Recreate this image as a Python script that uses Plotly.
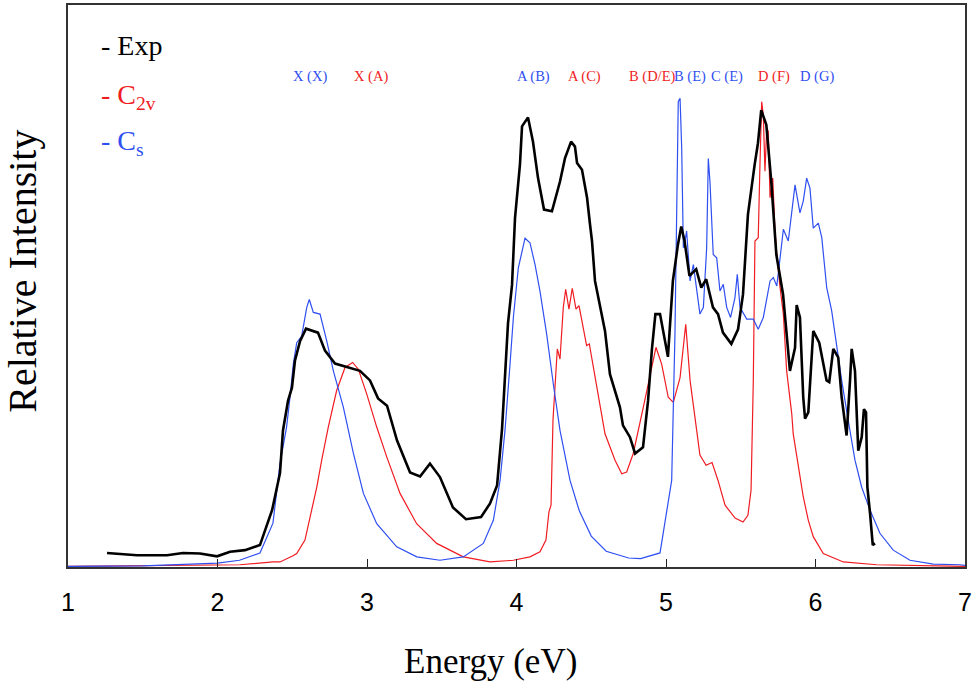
import plotly.graph_objects as go

# ---- data (energy in eV, relative intensity in % of axis height) ----
exp_x = [1.261, 1.462, 1.662, 1.769, 1.883, 1.997, 2.084, 2.184, 2.284, 2.365, 2.418, 2.438, 2.472, 2.498,
         2.518, 2.552, 2.592, 2.672, 2.719, 2.786, 2.953, 3.020, 3.074, 3.134, 3.201, 3.288, 3.355, 3.421,
         3.488, 3.575, 3.662, 3.763, 3.823, 3.870, 3.903, 3.923, 3.943, 3.970, 3.990, 4.023, 4.037, 4.077,
         4.110, 4.144, 4.184, 4.237, 4.291, 4.324, 4.365, 4.391, 4.405, 4.438, 4.472, 4.492, 4.505, 4.525,
         4.559, 4.592, 4.625, 4.692, 4.712, 4.759, 4.793, 4.846, 4.880, 4.906, 4.929, 4.960, 5.013, 5.046,
         5.080, 5.102, 5.124, 5.157, 5.202, 5.236, 5.269, 5.314, 5.348, 5.381, 5.437, 5.482, 5.515, 5.548,
         5.593, 5.615, 5.637, 5.671, 5.704, 5.738, 5.783, 5.805, 5.829, 5.863, 5.874, 5.896, 5.918, 5.930,
         5.952, 5.985, 6.025, 6.074, 6.092, 6.119, 6.152, 6.175, 6.208, 6.231, 6.242, 6.264, 6.286, 6.309,
         6.324, 6.338, 6.347, 6.365, 6.383, 6.398]
exp_y = [2.5, 2.1, 2.1, 2.5, 2.4, 1.9, 2.7, 3.0, 3.9, 10.1, 16.7, 24.3, 29.6, 31.9,
         36.7, 40.2, 42.4, 41.7, 38.5, 36.2, 34.9, 33.2, 30.0, 28.7, 22.5, 16.8, 16.1, 18.4,
         16.0, 10.6, 8.5, 8.9, 11.3, 14.5, 24.5, 34.5, 43.3, 50.2, 62.1, 71.6, 78.4, 80.0,
         75.7, 69.2, 63.6, 63.3, 68.6, 72.7, 75.7, 74.8, 71.9, 70.7, 65.7, 60.9, 58.0, 50.9,
         46.2, 42.0, 34.3, 28.4, 25.2, 23.1, 20.2, 21.3, 29.6, 38.8, 45.0, 45.0, 37.4, 50.9,
         57.4, 60.6, 58.0, 51.8, 53.0, 49.7, 51.2, 46.2, 45.0, 41.7, 39.7, 42.3, 48.5, 62.7,
         71.6, 75.4, 81.3, 78.7, 68.6, 55.6, 48.5, 41.4, 34.9, 39.0, 46.6, 44.4, 30.2, 26.4,
         27.5, 42.0, 39.9, 33.2, 32.9, 38.8, 37.3, 30.2, 23.4, 33.2, 38.8, 34.9, 20.7, 23.1,
         28.1, 27.5, 14.2, 9.5, 3.9, 4.2]

c2v_x = [1.0, 1.5, 2.0, 2.15, 2.371, 2.418, 2.505, 2.530, 2.585, 2.619, 2.664, 2.697, 2.741, 2.797,
         2.853, 2.904, 2.942, 2.998, 3.065, 3.132, 3.221, 3.332, 3.466, 3.644, 3.823, 3.979, 4.090,
         4.157, 4.197, 4.217, 4.231, 4.244, 4.258, 4.273, 4.291, 4.313, 4.329, 4.351, 4.373, 4.398,
         4.418, 4.447, 4.469, 4.487, 4.525, 4.592, 4.659, 4.704, 4.737, 4.781, 4.848, 4.893, 4.933,
         4.971, 5.015, 5.049, 5.094, 5.132, 5.161, 5.227, 5.268, 5.308, 5.348, 5.395, 5.462, 5.515,
         5.548, 5.569, 5.584, 5.595, 5.617, 5.629, 5.640, 5.651, 5.662, 5.674, 5.684, 5.696, 5.714,
         5.729, 5.741, 5.763, 5.785, 5.807, 5.841, 5.851, 5.874, 5.896, 5.918, 5.952, 5.985, 6.052,
         6.186, 6.409, 6.967, 7.0]
c2v_y = [0.1, 0.2, 0.3, 0.4, 0.9, 0.9, 2.0, 2.4, 4.8, 8.9, 14.2, 19.0, 24.9, 31.4,
         35.5, 36.4, 35.2, 30.8, 24.9, 19.6, 13.1, 7.7, 4.2, 1.8, 0.9, 1.2, 1.8,
         2.7, 4.8, 9.8, 11.0, 26.1, 32.6, 38.8, 37.0, 46.2, 49.4, 45.9, 49.6, 45.9,
         46.5, 42.6, 39.4, 39.7, 33.7, 23.7, 19.0, 16.6, 16.9, 20.2, 28.4, 34.3, 39.1,
         36.1, 30.2, 29.3, 33.7, 43.2, 33.2, 19.9, 18.1, 18.6, 15.4, 11.0, 8.7, 8.0,
         9.2, 13.7, 33.2, 58.0, 58.6, 72.2, 82.8, 80.4, 70.4, 78.1, 77.5, 65.7, 69.2,
         59.8, 55.6, 49.7, 45.0, 34.9, 27.3, 23.7, 19.6, 16.0, 12.5, 8.3, 5.4, 2.4,
         0.9, 0.4, 0.1, 0.1]

cs_x = [1.0, 1.5, 2.0, 2.147, 2.284, 2.371, 2.418, 2.462, 2.485, 2.507, 2.530, 2.563, 2.597, 2.614,
        2.641, 2.686, 2.731, 2.775, 2.842, 2.909, 2.976, 3.065, 3.199, 3.333, 3.488, 3.644, 3.778,
        3.845, 3.890, 3.923, 3.957, 3.979, 4.012, 4.057, 4.090, 4.124, 4.157, 4.202, 4.246, 4.291,
        4.358, 4.42, 4.50, 4.60, 4.75, 4.83, 4.96, 5.038, 5.060, 5.082, 5.094, 5.105, 5.116, 5.127,
        5.138, 5.149, 5.161, 5.183, 5.205, 5.227, 5.250, 5.272, 5.283, 5.294, 5.316, 5.339, 5.361,
        5.383, 5.406, 5.432, 5.461, 5.477, 5.495, 5.540, 5.584, 5.617, 5.651, 5.696, 5.718, 5.741,
        5.763, 5.785, 5.818, 5.841, 5.863, 5.896, 5.918, 5.941, 5.963, 5.985, 6.019, 6.042, 6.075,
        6.108, 6.142, 6.175, 6.219, 6.264, 6.309, 6.365, 6.431, 6.520, 6.632, 6.788, 6.967, 7.0]
cs_y = [0.1, 0.2, 0.7, 1.2, 2.5, 7.8, 18.4, 24.9, 30.2, 36.1, 39.9, 41.1, 46.2, 47.6,
        45.3, 45.0, 40.2, 34.9, 28.4, 20.2, 13.1, 7.7, 3.6, 1.8, 1.2, 1.8, 4.2,
        8.3, 15.4, 24.3, 36.2, 44.4, 53.2, 58.5, 57.7, 53.8, 49.1, 41.4, 32.6, 24.3,
        15.4, 10.0, 5.5, 2.8, 1.6, 1.5, 2.5, 15.4, 41.5, 82.8, 83.4, 74.5, 56.8, 58.0,
        59.8, 55.7, 50.9, 53.8, 49.7, 45.0, 46.2, 56.8, 72.7, 68.6, 55.6, 55.0, 49.1,
        50.3, 46.2, 44.4, 47.9, 52.1, 46.2, 44.1, 44.1, 42.3, 44.4, 50.9, 51.5, 50.0,
        55.0, 60.1, 58.0, 63.3, 68.0, 63.0, 65.1, 69.2, 67.4, 60.3, 61.2, 58.6, 49.7,
        45.6, 39.1, 33.2, 26.1, 19.0, 14.2, 10.1, 6.0, 3.0, 1.2, 0.5, 0.4, 0.3]

peak_labels = ["X (X)", "X (A)", "A (B)", "A (C)", "B (D/E)", "B (E)", "C (E)", "D (F)", "D (G)"]
peak_series = ["Cs", "C2v", "Cs", "C2v", "C2v", "Cs", "Cs", "C2v", "Cs"]
peak_label_x = [2.619, 3.027, 4.117, 4.452, 4.906, 5.161, 5.408, 5.722, 6.010]

x_ticks = [1, 2, 3, 4, 5, 6, 7]

RED = "#f01c22"
BLUE = "#2f4ff0"
colors = {"C2v": RED, "Cs": BLUE}
SERIF = "Liberation Serif, Times New Roman, serif"

fig = go.Figure()
fig.add_trace(go.Scatter(x=c2v_x, y=c2v_y, mode="lines", line=dict(color=RED, width=1.2), name="C2v"))
fig.add_trace(go.Scatter(x=cs_x, y=cs_y, mode="lines", line=dict(color=BLUE, width=1.2), name="Cs"))
fig.add_trace(go.Scatter(x=exp_x, y=exp_y, mode="lines", line=dict(color="black", width=2.6), name="Exp"))

ann = []
for t, s, x in zip(peak_labels, peak_series, peak_label_x):
    ann.append(dict(x=x, y=0.872, xref="x", yref="paper", text=t, showarrow=False,
                    xanchor="center", yanchor="middle",
                    font=dict(family=SERIF, size=14.5, color=colors[s])))

legend_items = [("- Exp", "black", 0.928), ("- C<sub>2v</sub>", RED, 0.838), ("- C<sub>s</sub>", BLUE, 0.755)]
for t, c, y in legend_items:
    ann.append(dict(x=0.035, y=y, xref="paper", yref="paper", text=t, showarrow=False,
                    xanchor="left", yanchor="middle", font=dict(family=SERIF, size=28, color=c)))

ann.append(dict(x=0.4705, y=-0.168, xref="paper", yref="paper", text="Energy (eV)", showarrow=False,
                xanchor="center", yanchor="middle", font=dict(family=SERIF, size=35, color="black")))
ann.append(dict(x=-0.0502, y=0.527, xref="paper", yref="paper", text="Relative Intensity", showarrow=False,
                textangle=-90, xanchor="center", yanchor="middle",
                font=dict(family=SERIF, size=40, color="black")))

fig.update_layout(
    width=980, height=689,
    margin=dict(l=68, r=15, t=3, b=122),
    paper_bgcolor="white", plot_bgcolor="white",
    showlegend=False,
    annotations=ann,
    xaxis=dict(range=[1, 7], tickvals=x_ticks, ticks="inside", ticklen=8, tickwidth=1.2,
               tickcolor="#222", showline=True, linecolor="#333", linewidth=2, mirror=True,
               showgrid=False, zeroline=False, ticklabelstandoff=12,
               tickfont=dict(family="Liberation Sans, Arial, sans-serif", size=25, color="black")),
    yaxis=dict(range=[0, 100], showticklabels=False, ticks="", showline=True, linecolor="#333",
               linewidth=2, mirror=True, showgrid=False, zeroline=False),
)

fig.write_html("out.html", config={"displayModeBar": False},
               post_script="document.body.style.margin='0';document.body.style.overflow='hidden';")
